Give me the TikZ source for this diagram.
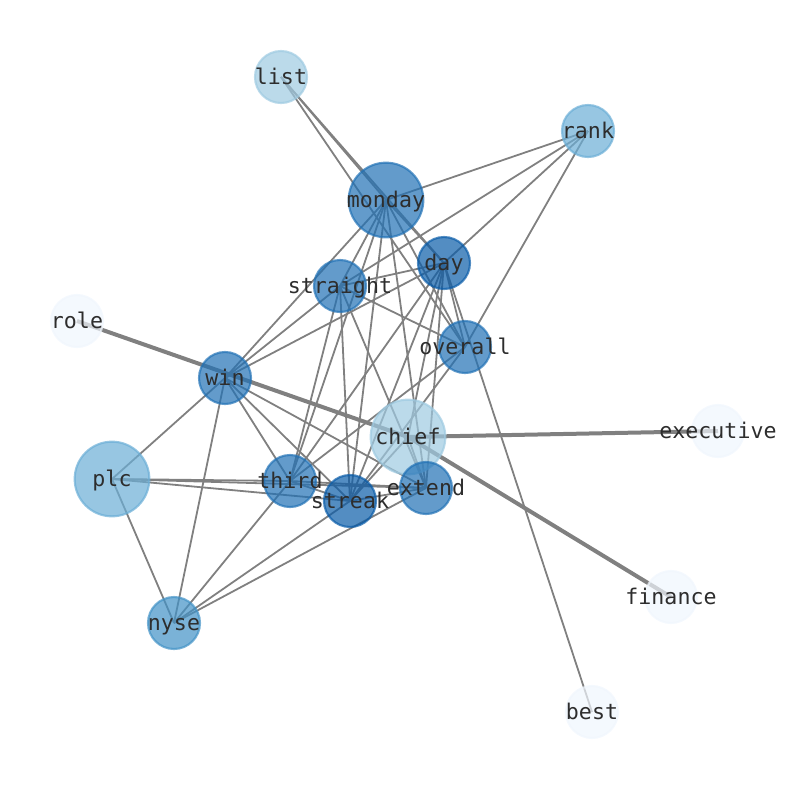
\documentclass[tikz,border=0pt]{standalone}
\usepackage{fontspec}
\newfontfamily\lblfont{DejaVu Sans Mono}
\usetikzlibrary{backgrounds}
\definecolor{bdark}{RGB}{33,113,181}
\definecolor{bdarker}{RGB}{10,92,168}
\definecolor{bmid}{RGB}{66,146,198}
\definecolor{blight}{RGB}{107,174,214}
\definecolor{blighter}{RGB}{158,202,225}
\definecolor{bpale}{RGB}{240,246,253}
\definecolor{lbltext}{RGB}{45,45,45}
\definecolor{edgegray}{RGB}{128,128,128}
\tikzset{
  vtx/.style={circle, inner sep=0pt, minimum size=39pt, line width=1.6pt,
              fill opacity=0.7, draw opacity=0.7},
  bigvtx/.style={vtx, minimum size=56pt},
  cdark/.style={fill=bdark, draw=bdark},
  cdarker/.style={fill=bdarker, draw=bdarker},
  cmid/.style={fill=bmid, draw=bmid},
  clight/.style={fill=blight, draw=blight},
  clighter/.style={fill=blighter, draw=blighter},
  cpale/.style={fill=bpale, draw=bpale},
  lbl/.style={font=\lblfont\fontsize{16.2}{18}\selectfont, text=lbltext,
              inner sep=0pt, text height=0.85em, text depth=0.23em, yshift=-2.2pt},
  edge/.style={draw=edgegray, line width=1.35pt},
  heavy/.style={draw=edgegray, line width=3pt}
}
\begin{document}
\begin{tikzpicture}[x=0.75pt,y=-0.75pt]
\useasboundingbox (0,0) rectangle (794,790);
% nodes
\node[vtx, clighter] (L) at (281,77) {};
\node[vtx, clight] (R) at (588,131) {};
\node[bigvtx, cdark] (M) at (386,200) {};
\node[vtx, cdarker] (D) at (444,263) {};
\node[vtx, cdark] (S) at (340,286) {};
\node[vtx, cdark] (O) at (465,347) {};
\node[vtx, cpale] (RO) at (77,321) {};
\node[vtx, cdark] (W) at (225,378) {};
\node[bigvtx, clighter] (C) at (408,437) {};
\node[vtx, cpale] (EX) at (718,431) {};
\node[bigvtx, clight] (P) at (112,479) {};
\node[vtx, cdark] (T) at (290,481) {};
\node[vtx, cdarker] (K) at (350,501) {};
\node[vtx, cdark] (E) at (426,488) {};
\node[vtx, cmid] (N) at (174,623) {};
\node[vtx, cpale] (F) at (671,597) {};
\node[vtx, cpale] (B) at (592,712) {};
% edges
\begin{scope}[on background layer]
\foreach \a/\b in {L/M, L/D, L/O,
  R/M, R/S, R/D, R/O,
  M/D, M/S, M/W, M/T, M/K, M/E, M/O,
  D/S, D/W, D/O, D/T, D/K, D/E, D/C, D/B,
  S/W, S/O, S/T, S/K, S/E,
  O/T, O/K,
  W/T, W/K, W/E, W/P, W/N,
  T/K, T/E, K/E, C/K, C/E,
  P/T, P/K, P/E, P/N,
  N/T, N/K, N/E}
  \draw[edge] (\a.center) -- (\b.center);
\draw[heavy] (RO.center) -- (C.center);
\draw[heavy] (C.center) -- (EX.center);
\draw[heavy] (C.center) -- (F.center);
\end{scope}
% labels
\node[lbl] (Ll) at (L) {list};
\node[lbl] (Rl) at (R) {rank};
\node[lbl] (Ml) at (M) {monday};
\node[lbl] (Dl) at (D) {day};
\node[lbl] (Sl) at (S) {straight};
\node[lbl] (Ol) at (O) {overall};
\node[lbl] (ROl) at (RO) {role};
\node[lbl] (Wl) at (W) {win};
\node[lbl] (Cl) at (C) {chief};
\node[lbl] (EXl) at (EX) {executive};
\node[lbl] (Pl) at (P) {plc};
\node[lbl] (Tl) at (T) {third};
\node[lbl] (Kl) at (K) {streak};
\node[lbl] (El) at (E) {extend};
\node[lbl] (Nl) at (N) {nyse};
\node[lbl] (Fl) at (F) {finance};
\node[lbl] (Bl) at (B) {best};
\end{tikzpicture}
\end{document}
